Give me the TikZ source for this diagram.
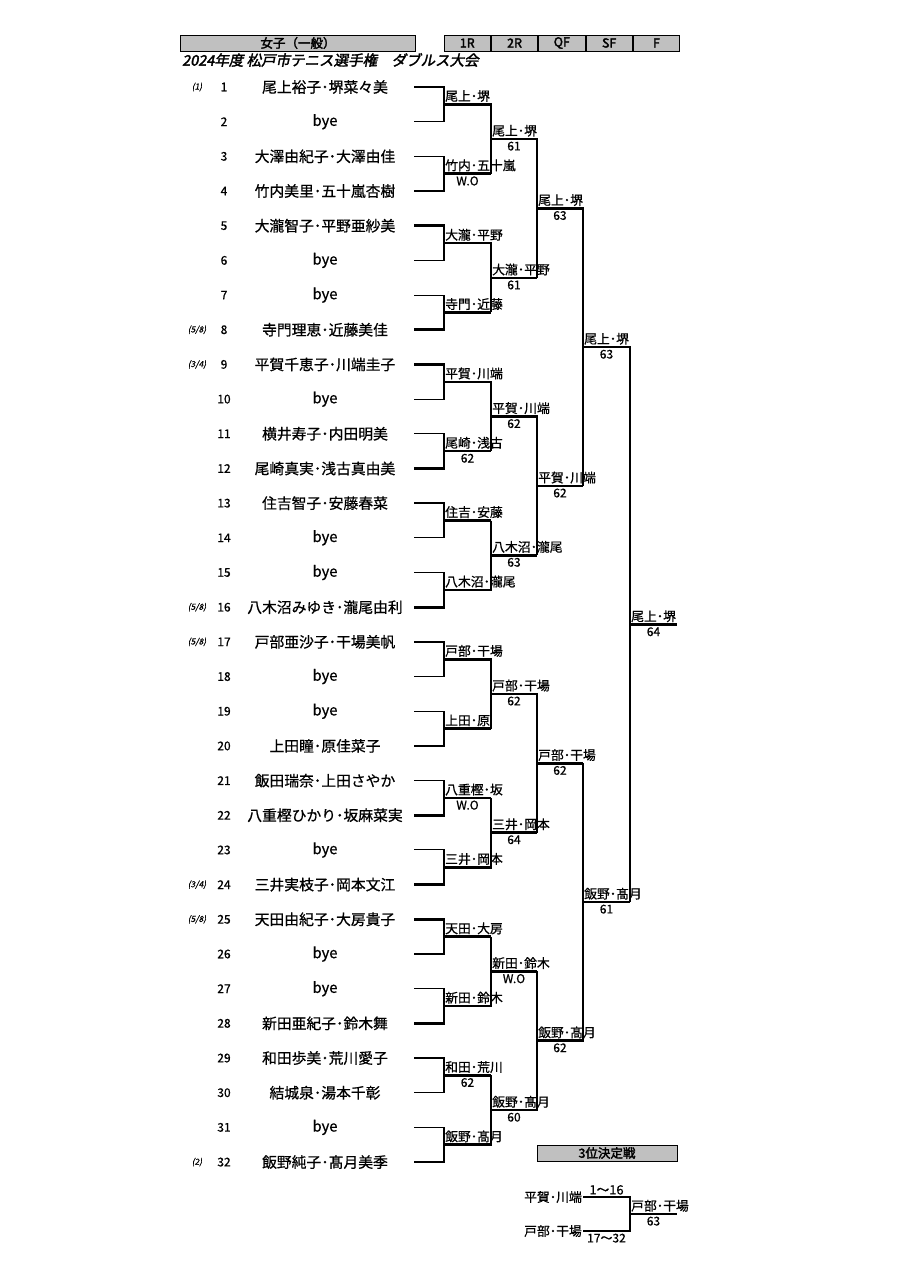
\documentclass[tikz,border=0pt]{standalone}
\usepackage{fontspec}
\setmainfont{Noto Sans CJK JP}[FakeBold=0.7]
\newfontfamily\boldjp{Noto Sans CJK JP}[FakeBold=2.4]
\newfontfamily\titlejp{Noto Sans CJK JP}[FakeSlant=0.2,FakeBold=2.2]
\newfontfamily\seedjp{Noto Sans CJK JP}[FakeSlant=0.2,FakeBold=0.4]
\usetikzlibrary{positioning}
\definecolor{boxgray}{RGB}{192,192,192}

\begin{document}
\begin{tikzpicture}[
    x=1pt, y=-1pt,
    win/.style={line width=2.6pt},
    lose/.style={line width=1.05pt},
    entrant/.style={inner sep=0pt, font=\fontsize{14.8}{15}\selectfont},
    rowno/.style={inner sep=0pt, font=\fontsize{12}{13}\selectfont},
    seedmark/.style={inner sep=0pt, font=\seedjp\fontsize{8.5}{9}\selectfont},
    pair/.style={anchor=south west, inner sep=1pt, yshift=1.2pt, font=\fontsize{12.8}{13}\selectfont},
    score/.style={anchor=north, inner sep=1pt, yshift=-1.5pt, font=\fontsize{12}{13}\selectfont},
    hbox/.style={draw, fill=boxgray, line width=0.8pt, inner sep=0pt, minimum height=16pt, font=\boldjp\fontsize{12.5}{13}\selectfont},
    rbox/.style={hbox, minimum width=46.5pt}
]
\useasboundingbox (0,0) rectangle (905,1280);

% header
\node[hbox, minimum width=235pt] (cat) at (298,43) {女子（一般）};
\node[rbox] (h1) at (467.25,43) {1R};
\node[rbox, right=0pt of h1] (h2) {2R};
\node[rbox, right=0pt of h2] (h3) {QF};
\node[rbox, right=0pt of h3] (h4) {SF};
\node[rbox, right=0pt of h4] (h5) {F};
\node[anchor=west, inner sep=0pt, font=\titlejp\fontsize{14.5}{15}\selectfont] (ttl) at (182,60) {2024年度 松戸市テニス選手権\hspace{1em}ダブルス大会};

% draw rows
\coordinate (namecol) at (325,0);
\coordinate (seedcol) at (197,0);
\foreach \i in {1,...,32} {
    \coordinate (e\i) at (414,{87+(\i-1)*34.68});
    \node[rowno] (k\i) at (224,{87+(\i-1)*34.68}) {\i};
}
\node[entrant] (n1) at (e1 -| namecol) {尾上裕子･堺菜々美};
\node[entrant] (n2) at (e2 -| namecol) {bye};
\node[entrant] (n3) at (e3 -| namecol) {大澤由紀子･大澤由佳};
\node[entrant] (n4) at (e4 -| namecol) {竹内美里･五十嵐杏樹};
\node[entrant] (n5) at (e5 -| namecol) {大瀧智子･平野亜紗美};
\node[entrant] (n6) at (e6 -| namecol) {bye};
\node[entrant] (n7) at (e7 -| namecol) {bye};
\node[entrant] (n8) at (e8 -| namecol) {寺門理恵･近藤美佳};
\node[entrant] (n9) at (e9 -| namecol) {平賀千恵子･川端圭子};
\node[entrant] (n10) at (e10 -| namecol) {bye};
\node[entrant] (n11) at (e11 -| namecol) {横井寿子･内田明美};
\node[entrant] (n12) at (e12 -| namecol) {尾崎真実･浅古真由美};
\node[entrant] (n13) at (e13 -| namecol) {住吉智子･安藤春菜};
\node[entrant] (n14) at (e14 -| namecol) {bye};
\node[entrant] (n15) at (e15 -| namecol) {bye};
\node[entrant] (n16) at (e16 -| namecol) {八木沼みゆき･瀧尾由利};
\node[entrant] (n17) at (e17 -| namecol) {戸部亜沙子･干場美帆};
\node[entrant] (n18) at (e18 -| namecol) {bye};
\node[entrant] (n19) at (e19 -| namecol) {bye};
\node[entrant] (n20) at (e20 -| namecol) {上田瞳･原佳菜子};
\node[entrant] (n21) at (e21 -| namecol) {飯田瑞奈･上田さやか};
\node[entrant] (n22) at (e22 -| namecol) {八重樫ひかり･坂麻菜実};
\node[entrant] (n23) at (e23 -| namecol) {bye};
\node[entrant] (n24) at (e24 -| namecol) {三井実枝子･岡本文江};
\node[entrant] (n25) at (e25 -| namecol) {天田由紀子･大房貴子};
\node[entrant] (n26) at (e26 -| namecol) {bye};
\node[entrant] (n27) at (e27 -| namecol) {bye};
\node[entrant] (n28) at (e28 -| namecol) {新田亜紀子･鈴木舞};
\node[entrant] (n29) at (e29 -| namecol) {和田歩美･荒川愛子};
\node[entrant] (n30) at (e30 -| namecol) {結城泉･湯本千彰};
\node[entrant] (n31) at (e31 -| namecol) {bye};
\node[entrant] (n32) at (e32 -| namecol) {飯野純子･髙月美季};

% seeds
\node[seedmark] (s1) at (e1 -| seedcol) {(1)};
\node[seedmark] (s8) at (e8 -| seedcol) {(5/8)};
\node[seedmark] (s9) at (e9 -| seedcol) {(3/4)};
\node[seedmark] (s16) at (e16 -| seedcol) {(5/8)};
\node[seedmark] (s17) at (e17 -| seedcol) {(5/8)};
\node[seedmark] (s24) at (e24 -| seedcol) {(3/4)};
\node[seedmark] (s25) at (e25 -| seedcol) {(5/8)};
\node[seedmark] (s32) at (e32 -| seedcol) {(2)};

% match points
\coordinate (a1) at (444,104.3);
\coordinate (a2) at (444,173.7);
\coordinate (a3) at (444,243.1);
\coordinate (a4) at (444,312.4);
\coordinate (a5) at (444,381.8);
\coordinate (a6) at (444,451.1);
\coordinate (a7) at (444,520.5);
\coordinate (a8) at (444,589.9);
\coordinate (a9) at (444,659.2);
\coordinate (a10) at (444,728.6);
\coordinate (a11) at (444,797.9);
\coordinate (a12) at (444,867.3);
\coordinate (a13) at (444,936.7);
\coordinate (a14) at (444,1006.0);
\coordinate (a15) at (444,1075.4);
\coordinate (a16) at (444,1144.7);
\coordinate (b1) at (491,139.0);
\coordinate (b2) at (491,277.8);
\coordinate (b3) at (491,416.5);
\coordinate (b4) at (491,555.2);
\coordinate (b5) at (491,693.9);
\coordinate (b6) at (491,832.6);
\coordinate (b7) at (491,971.4);
\coordinate (b8) at (491,1110.1);
\coordinate (c1) at (537,208.4);
\coordinate (c2) at (537,485.9);
\coordinate (c3) at (537,763.3);
\coordinate (c4) at (537,1040.7);
\coordinate (d1) at (583,347.1);
\coordinate (d2) at (583,902.0);
\coordinate (f1) at (630,624.6);
\coordinate (champ) at (677,624.6);

% 1R
\draw[win] (e1) -| (a1);   \draw[lose] (e2) -| (a1);
\draw[lose] (e3) -| (a2);  \draw[win] (e4) -| (a2);
\draw[win] (e5) -| (a3);   \draw[lose] (e6) -| (a3);
\draw[lose] (e7) -| (a4);  \draw[win] (e8) -| (a4);
\draw[win] (e9) -| (a5);   \draw[lose] (e10) -| (a5);
\draw[lose] (e11) -| (a6); \draw[win] (e12) -| (a6);
\draw[win] (e13) -| (a7);  \draw[lose] (e14) -| (a7);
\draw[lose] (e15) -| (a8); \draw[win] (e16) -| (a8);
\draw[win] (e17) -| (a9);  \draw[lose] (e18) -| (a9);
\draw[lose] (e19) -| (a10); \draw[win] (e20) -| (a10);
\draw[lose] (e21) -| (a11); \draw[win] (e22) -| (a11);
\draw[lose] (e23) -| (a12); \draw[win] (e24) -| (a12);
\draw[win] (e25) -| (a13); \draw[lose] (e26) -| (a13);
\draw[lose] (e27) -| (a14); \draw[win] (e28) -| (a14);
\draw[win] (e29) -| (a15); \draw[lose] (e30) -| (a15);
\draw[lose] (e31) -| (a16); \draw[win] (e32) -| (a16);

% 2R
\draw[win] (a1) -| (b1);
\draw[win] (a2) -- (a2 -| b1); \draw[lose] (a2 -| b1) -- (b1);
\draw[win] (a3) -| (b2);
\draw[win] (a4) -- (a4 -| b2); \draw[lose] (a4 -| b2) -- (b2);
\draw[win] (a5) -| (b3);
\draw[win] (a6) -- (a6 -| b3); \draw[lose] (a6 -| b3) -- (b3);
\draw[win] (a7) -- (a7 -| b4); \draw[lose] (a7 -| b4) -- (b4);
\draw[win] (a8) -| (b4);
\draw[win] (a9) -| (b5);
\draw[win] (a10) -- (a10 -| b5); \draw[lose] (a10 -| b5) -- (b5);
\draw[win] (a11) -- (a11 -| b6); \draw[lose] (a11 -| b6) -- (b6);
\draw[win] (a12) -| (b6);
\draw[win] (a13) -- (a13 -| b7); \draw[lose] (a13 -| b7) -- (b7);
\draw[win] (a14) -| (b7);
\draw[win] (a15) -- (a15 -| b8); \draw[lose] (a15 -| b8) -- (b8);
\draw[win] (a16) -| (b8);

% QF
\draw[win] (b1) -| (c1);
\draw[win] (b2) -- (b2 -| c1); \draw[lose] (b2 -| c1) -- (c1);
\draw[win] (b3) -| (c2);
\draw[win] (b4) -- (b4 -| c2); \draw[lose] (b4 -| c2) -- (c2);
\draw[win] (b5) -| (c3);
\draw[win] (b6) -- (b6 -| c3); \draw[lose] (b6 -| c3) -- (c3);
\draw[win] (b7) -- (b7 -| c4); \draw[lose] (b7 -| c4) -- (c4);
\draw[win] (b8) -| (c4);

% SF
\draw[win] (c1) -| (d1);
\draw[win] (c2) -- (c2 -| d1); \draw[lose] (c2 -| d1) -- (d1);
\draw[win] (c3) -- (c3 -| d2); \draw[lose] (c3 -| d2) -- (d2);
\draw[win] (c4) -| (d2);

% F
\draw[win] (d1) -| (f1);
\draw[win] (d2) -- (d2 -| f1); \draw[lose] (d2 -| f1) -- (f1);
\draw[win] (f1) -- (champ);

% winners and scores
\node[pair] (la1) at (a1) {尾上･堺};
\node[pair] (la2) at (a2) {竹内･五十嵐};
\node[score] (sa2) at ([xshift=23.5pt]a2) {W.O};
\node[pair] (la3) at (a3) {大瀧･平野};
\node[pair] (la4) at (a4) {寺門･近藤};
\node[pair] (la5) at (a5) {平賀･川端};
\node[pair] (la6) at (a6) {尾崎･浅古};
\node[score] (sa6) at ([xshift=23.5pt]a6) {62};
\node[pair] (la7) at (a7) {住吉･安藤};
\node[pair] (la8) at (a8) {八木沼･瀧尾};
\node[pair] (la9) at (a9) {戸部･干場};
\node[pair] (la10) at (a10) {上田･原};
\node[pair] (la11) at (a11) {八重樫･坂};
\node[score] (sa11) at ([xshift=23.5pt]a11) {W.O};
\node[pair] (la12) at (a12) {三井･岡本};
\node[pair] (la13) at (a13) {天田･大房};
\node[pair] (la14) at (a14) {新田･鈴木};
\node[pair] (la15) at (a15) {和田･荒川};
\node[score] (sa15) at ([xshift=23.5pt]a15) {62};
\node[pair] (la16) at (a16) {飯野･髙月};

\node[pair] (lb1) at (b1) {尾上･堺};
\node[score] (sb1) at ([xshift=23pt]b1) {61};
\node[pair] (lb2) at (b2) {大瀧･平野};
\node[score] (sb2) at ([xshift=23pt]b2) {61};
\node[pair] (lb3) at (b3) {平賀･川端};
\node[score] (sb3) at ([xshift=23pt]b3) {62};
\node[pair] (lb4) at (b4) {八木沼･瀧尾};
\node[score] (sb4) at ([xshift=23pt]b4) {63};
\node[pair] (lb5) at (b5) {戸部･干場};
\node[score] (sb5) at ([xshift=23pt]b5) {62};
\node[pair] (lb6) at (b6) {三井･岡本};
\node[score] (sb6) at ([xshift=23pt]b6) {64};
\node[pair] (lb7) at (b7) {新田･鈴木};
\node[score] (sb7) at ([xshift=23pt]b7) {W.O};
\node[pair] (lb8) at (b8) {飯野･髙月};
\node[score] (sb8) at ([xshift=23pt]b8) {60};

\node[pair] (lc1) at (c1) {尾上･堺};
\node[score] (sc1) at ([xshift=23pt]c1) {63};
\node[pair] (lc2) at (c2) {平賀･川端};
\node[score] (sc2) at ([xshift=23pt]c2) {62};
\node[pair] (lc3) at (c3) {戸部･干場};
\node[score] (sc3) at ([xshift=23pt]c3) {62};
\node[pair] (lc4) at (c4) {飯野･髙月};
\node[score] (sc4) at ([xshift=23pt]c4) {62};

\node[pair] (ld1) at (d1) {尾上･堺};
\node[score] (sd1) at ([xshift=23.5pt]d1) {63};
\node[pair] (ld2) at (d2) {飯野･髙月};
\node[score] (sd2) at ([xshift=23.5pt]d2) {61};

\node[pair] (lf1) at (f1) {尾上･堺};
\node[score] (sf1) at ([xshift=23.5pt]f1) {64};

% third place
\node[hbox, minimum width=140pt] (third) at (607,1153) {3位決定戦};
\coordinate (t1) at (583,1197);
\coordinate (t2) at (583,1231);
\coordinate (t3) at (630,1214);
\coordinate (t4) at (677,1214);
\node[pair, anchor=east, yshift=-1.2pt] (tn1) at (t1) {平賀･川端};
\node[pair, anchor=east, yshift=-1.2pt] (tn2) at (t2) {戸部･干場};
\draw[lose] (t1) -| (t3);
\draw[win] (t2) -| (t3);
\draw[win] (t3) -- (t4);
\node[pair, anchor=south] (tu) at ([xshift=23.5pt]t1) {1〜16};
\node[score] (tl) at ([xshift=23.5pt]t2) {17〜32};
\node[pair] (tw) at (t3) {戸部･干場};
\node[score] (ts) at ([xshift=23.5pt]t3) {63};
\end{tikzpicture}
\end{document}
